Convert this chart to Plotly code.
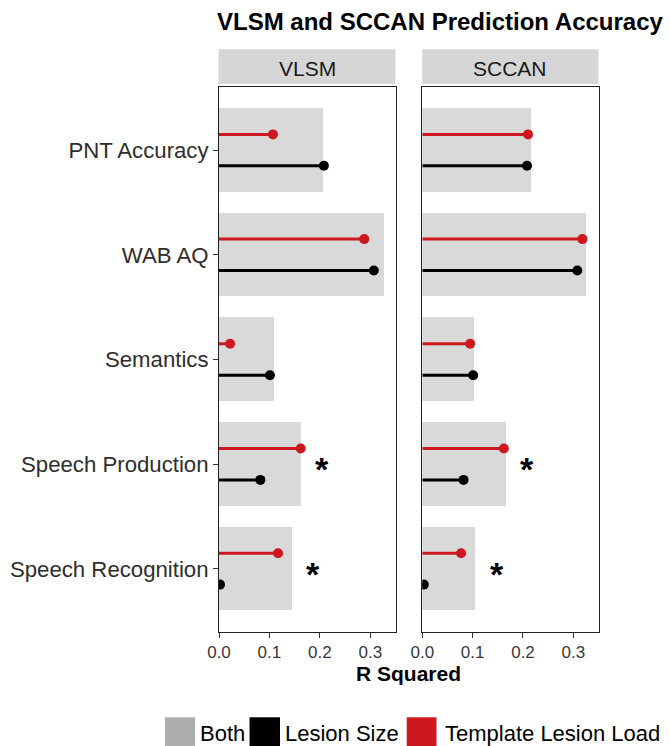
import plotly.graph_objects as go

W, H = 670, 746

# ---------------- data ----------------
categories = ["PNT Accuracy", "WAB AQ", "Semantics", "Speech Production", "Speech Recognition"]
methods = ["VLSM", "SCCAN"]
vlsm_both = [0.207, 0.327, 0.110, 0.163, 0.145]
vlsm_lesion_size = [0.208, 0.307, 0.101, 0.082, 0.002]
vlsm_template = [0.107, 0.288, 0.022, 0.162, 0.117]
sccan_both = [0.217, 0.325, 0.103, 0.166, 0.106]
sccan_lesion_size = [0.208, 0.308, 0.101, 0.082, 0.003]
sccan_template = [0.210, 0.318, 0.095, 0.162, 0.077]
significant = [False, False, False, True, True]
x_ticks = [0.0, 0.1, 0.2, 0.3]
x_tick_labels = ["0.0", "0.1", "0.2", "0.3"]
legend_labels = ["Both", "Lesion Size", "Template Lesion Load"]

# ---------------- styles ----------------
C_BOTH_BAR = "#D9D9D9"
C_BOTH_KEY = "#ADADAD"
C_LESION = "#000000"
C_TEMPLATE = "#CC181E"
FONT = "Liberation Sans, Arial, sans-serif"
OFFSET = 0.15


def fx(px):
    return px / W


def fy(py):
    return 1 - py / H


positions = list(range(len(categories)))

fig = go.Figure()

panels = [
    ("x", "y", vlsm_both, vlsm_lesion_size, vlsm_template),
    ("x2", "y2", sccan_both, sccan_lesion_size, sccan_template),
]


def segs(vals, off):
    xs, ys = [], []
    for p, v in zip(positions, vals):
        xs += [0, v, None]
        ys += [p + off, p + off, None]
    return xs, ys


for xa, ya, both, lesion, template in panels:
    fig.add_trace(go.Bar(
        x=both, y=positions, orientation="h", width=0.8,
        marker=dict(color=C_BOTH_BAR, line=dict(width=0)),
        xaxis=xa, yaxis=ya, showlegend=False, hoverinfo="skip",
    ))
    for vals, off, col in ((template, -OFFSET, C_TEMPLATE), (lesion, OFFSET, C_LESION)):
        sx, sy = segs(vals, off)
        fig.add_trace(go.Scatter(
            x=sx, y=sy, mode="lines", line=dict(color=col, width=3),
            xaxis=xa, yaxis=ya, showlegend=False, hoverinfo="skip",
        ))
        fig.add_trace(go.Scatter(
            x=vals, y=[p + off for p in positions], mode="markers",
            marker=dict(color=col, size=10, line=dict(width=0)),
            xaxis=xa, yaxis=ya, showlegend=False, hoverinfo="skip",
        ))
    for p, v, sig in zip(positions, both, significant):
        if sig:
            fig.add_annotation(
                x=v + 0.042, y=p, xref=xa, yref=ya, text="<b>*</b>", showarrow=False,
                font=dict(family=FONT, size=34, color="#000000"),
                xanchor="center", yanchor="middle", yshift=-5,
            )

axis_common = dict(
    range=[0, 0.35], tickvals=x_ticks, ticktext=x_tick_labels, automargin=False,
    showgrid=False, zeroline=False, showline=True, linecolor="#222222", linewidth=1,
    mirror=True, ticks="outside", ticklen=5, tickwidth=1, tickcolor="#333333",
    tickfont=dict(family=FONT, size=17, color="#3A3A3A"),
)
yaxis_common = dict(
    range=[4.6, -0.6], tickvals=positions, ticktext=categories, automargin=False,
    showgrid=False, zeroline=False, showline=True, linecolor="#222222", linewidth=1,
    mirror=True,
    domain=[fy(631.7), fy(87.3)],
)

fig.update_layout(
    width=W, height=H, margin=dict(l=0, r=0, t=0, b=0, autoexpand=False),
    paper_bgcolor="white", plot_bgcolor="white",
    showlegend=False, bargap=0,
    xaxis=dict(domain=[fx(219), fx(395.5)], anchor="y", **axis_common),
    xaxis2=dict(domain=[fx(422.3), fx(598.5)], anchor="y2", **axis_common),
    yaxis=dict(anchor="x", ticks="outside", ticklen=5, tickwidth=1, tickcolor="#333333",
               tickfont=dict(family=FONT, size=22.2, color="#2E2E2E"), **yaxis_common),
    yaxis2=dict(anchor="x2", matches="y", showticklabels=False, ticks="", **yaxis_common),
)

# strips
for (x0, x1), label in zip([(218.5, 395.5), (422.3, 598.5)], methods):
    fig.add_shape(type="rect", xref="paper", yref="paper",
                  x0=fx(x0), x1=fx(x1), y0=fy(84), y1=fy(49.3),
                  fillcolor="#D6D6D6", line=dict(width=0), layer="below")
    fig.add_annotation(x=fx((x0 + x1) / 2), y=fy(68), xref="paper", yref="paper",
                       text=label, showarrow=False, xanchor="center", yanchor="middle",
                       font=dict(family=FONT, size=21, color="#1A1A1A"))

# title
fig.add_annotation(x=fx(215), y=fy(21), xref="paper", yref="paper",
                   text="<b>VLSM and SCCAN Prediction Accuracy</b>", showarrow=False,
                   xanchor="left", yanchor="middle",
                   font=dict(family=FONT, size=24, color="#000000"))

# x-axis title
fig.add_annotation(x=fx(408.5), y=fy(673), xref="paper", yref="paper",
                   text="<b>R Squared</b>", showarrow=False,
                   xanchor="center", yanchor="middle",
                   font=dict(family=FONT, size=21, color="#000000"))

# legend
legend_keys = [(165, 195, C_BOTH_KEY, 198), (249.5, 280, C_LESION, 283), (406.7, 436.5, C_TEMPLATE, 443)]
for (k0, k1, col, tx), lab in zip(legend_keys, legend_labels):
    fig.add_shape(type="rect", xref="paper", yref="paper",
                  x0=fx(k0), x1=fx(k1), y0=fy(747), y1=fy(717.3),
                  fillcolor=col, line=dict(width=0))
    fig.add_annotation(x=fx(tx), y=fy(733), xref="paper", yref="paper",
                       text=lab, showarrow=False, xanchor="left", yanchor="middle",
                       font=dict(family=FONT, size=22, color="#000000"))

fig.write_html("out.html")
